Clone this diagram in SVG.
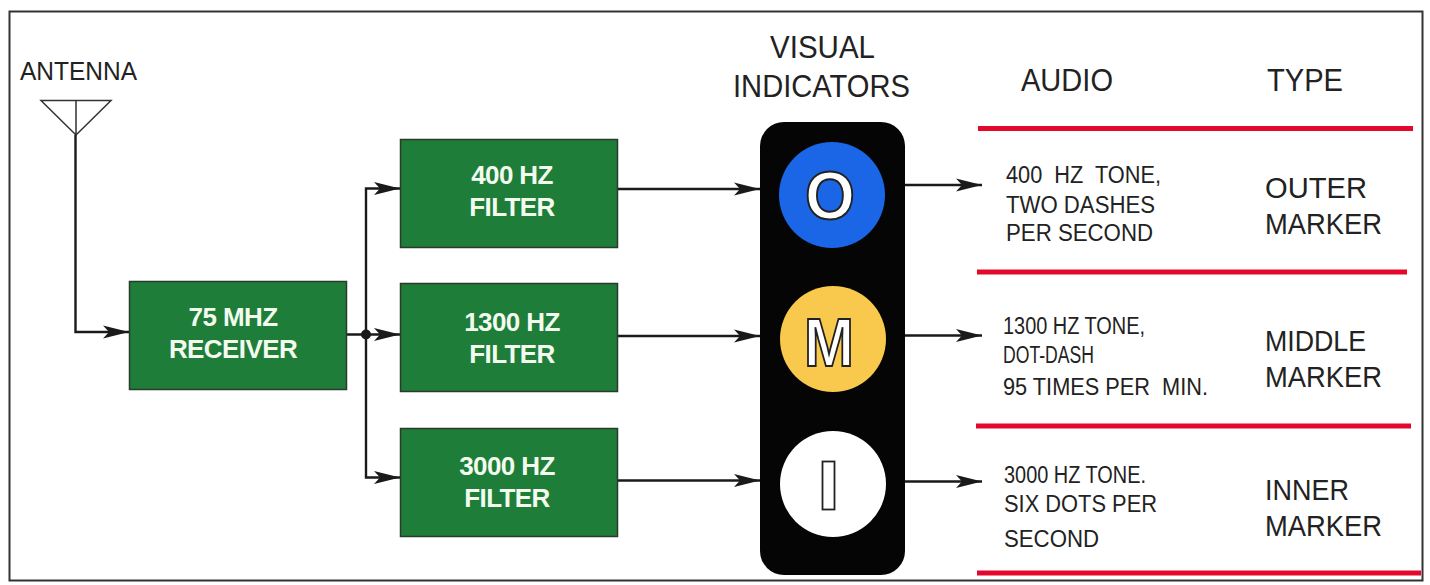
<svg xmlns="http://www.w3.org/2000/svg" width="1430" height="585" viewBox="0 0 1430 585">
<defs>
<marker id="arr" markerUnits="userSpaceOnUse" markerWidth="27" markerHeight="16" refX="26" refY="8" orient="auto"><path d="M0 1.500 L26 8 L0 14.500 L6 8 Z" fill="#1a1a1a"/></marker>
</defs>
<style>
text{font-family:"Liberation Sans",Arial,sans-serif;fill:#222;white-space:pre}
.box{fill:#1f7d3a;stroke:#2b3b2b;stroke-width:1.500}
.bt{fill:#f2fbee;font-size:26px;font-weight:bold;text-anchor:middle;letter-spacing:-.6px}
.hd{font-size:31.500px}
.au{font-size:23px}
.ty{font-size:29px}
.ln{fill:none;stroke:#1a1a1a;stroke-width:2.400}
.rd{fill:none;stroke:#e4082c;stroke-width:5}
.ind{font-size:68px;font-weight:bold;fill:#fff;stroke:#222;stroke-width:2;text-anchor:middle}
</style>
<rect width="1430" height="585" fill="#fff"/>
<rect id="frame" x="9.500" y="11.500" width="1413" height="569" fill="none" stroke="#333" stroke-width="2"/>
<g id="antenna">
<path d="M41 100.500 H111 L76 135 Z M76 100 V135" fill="none" stroke="#333" stroke-width="1.500"/>
<text x="20" y="80" font-size="25" textLength="117" lengthAdjust="spacingAndGlyphs">ANTENNA</text>
</g>
<g id="connectors">
<path class="ln" d="M75.500 135 V332 H129" marker-end="url(#arr)"/>
<path class="ln" d="M347 334.500 H400" marker-end="url(#arr)"/>
<path class="ln" d="M366 334 V188.500 H400" marker-end="url(#arr)"/>
<path class="ln" d="M366 334 V477.500 H400" marker-end="url(#arr)"/>
<circle cx="366" cy="334.500" r="5" fill="#1a1a1a"/>
<path class="ln" d="M617 189 H760" marker-end="url(#arr)"/>
<path class="ln" d="M617 336 H760" marker-end="url(#arr)"/>
<path class="ln" d="M617 480.500 H760" marker-end="url(#arr)"/>
<path class="ln" d="M904 185 H982" marker-end="url(#arr)"/>
<path class="ln" d="M904 335.500 H982" marker-end="url(#arr)"/>
<path class="ln" d="M904 481.500 H982" marker-end="url(#arr)"/>
</g>
<g id="receiver"><rect class="box" x="129.500" y="281.500" width="217" height="108"/><text class="bt" x="233" y="326">75 MHZ</text><text class="bt" x="233" y="358">RECEIVER</text></g>
<g id="f400"><rect class="box" x="400.500" y="139.500" width="217" height="108"/><text class="bt" x="512" y="184">400 HZ</text><text class="bt" x="512" y="216">FILTER</text></g>
<g id="f1300"><rect class="box" x="400.500" y="283.500" width="217" height="108"/><text class="bt" x="512" y="331">1300 HZ</text><text class="bt" x="512" y="363">FILTER</text></g>
<g id="f3000"><rect class="box" x="400.500" y="428.500" width="217" height="108"/><text class="bt" x="507" y="475">3000 HZ</text><text class="bt" x="507" y="507">FILTER</text></g>
<g id="indicators">
<rect x="760" y="122" width="145" height="453" rx="24" fill="#050505"/>
<text class="hd" x="770" y="58" textLength="105" lengthAdjust="spacingAndGlyphs">VISUAL</text>
<text class="hd" x="733" y="97" textLength="177" lengthAdjust="spacingAndGlyphs">INDICATORS</text>
<circle cx="832" cy="195" r="53" fill="#1a66e6"/>
<text class="ind" x="830" y="219" textLength="50" lengthAdjust="spacingAndGlyphs">O</text>
<circle cx="833" cy="339" r="53" fill="#f9c94e"/>
<text class="ind" x="829" y="366" textLength="50" lengthAdjust="spacingAndGlyphs">M</text>
<circle cx="833" cy="484" r="53" fill="#fff"/>
<rect x="822.500" y="461.500" width="12" height="48" fill="#fff" stroke="#222" stroke-width="1.800"/>
</g>
<g id="rules">
<path class="rd" d="M978 128.500 H1413"/>
<path class="rd" d="M977 272 H1407"/>
<path class="rd" d="M976 426 H1411"/>
<path class="rd" d="M977 573 H1421"/>
</g>
<g id="audio">
<text class="hd" x="1021" y="91" textLength="92" lengthAdjust="spacingAndGlyphs">AUDIO</text>
<text class="au" x="1006" y="183" textLength="155" lengthAdjust="spacingAndGlyphs">400  HZ  TONE,</text>
<text class="au" x="1006" y="213" textLength="149" lengthAdjust="spacingAndGlyphs">TWO DASHES</text>
<text class="au" x="1006" y="241" textLength="147" lengthAdjust="spacingAndGlyphs">PER SECOND</text>
<text class="au" x="1003" y="334" textLength="142" lengthAdjust="spacingAndGlyphs">1300 HZ TONE,</text>
<text class="au" x="1003" y="363" textLength="91" lengthAdjust="spacingAndGlyphs">DOT-DASH</text>
<text class="au" x="1003" y="395" textLength="205" lengthAdjust="spacingAndGlyphs">95 TIMES PER  MIN.</text>
<text class="au" x="1004" y="483" textLength="142" lengthAdjust="spacingAndGlyphs">3000 HZ TONE.</text>
<text class="au" x="1004" y="512" textLength="153" lengthAdjust="spacingAndGlyphs">SIX DOTS PER</text>
<text class="au" x="1004" y="547" textLength="95" lengthAdjust="spacingAndGlyphs">SECOND</text>
</g>
<g id="type">
<text class="hd" x="1267" y="91" textLength="76" lengthAdjust="spacingAndGlyphs">TYPE</text>
<text class="ty" x="1265" y="198" textLength="102" lengthAdjust="spacingAndGlyphs">OUTER</text>
<text class="ty" x="1265" y="234" textLength="117" lengthAdjust="spacingAndGlyphs">MARKER</text>
<text class="ty" x="1265" y="351" textLength="101" lengthAdjust="spacingAndGlyphs">MIDDLE</text>
<text class="ty" x="1265" y="387" textLength="117" lengthAdjust="spacingAndGlyphs">MARKER</text>
<text class="ty" x="1265" y="500" textLength="84" lengthAdjust="spacingAndGlyphs">INNER</text>
<text class="ty" x="1265" y="536" textLength="117" lengthAdjust="spacingAndGlyphs">MARKER</text>
</g>
</svg>
